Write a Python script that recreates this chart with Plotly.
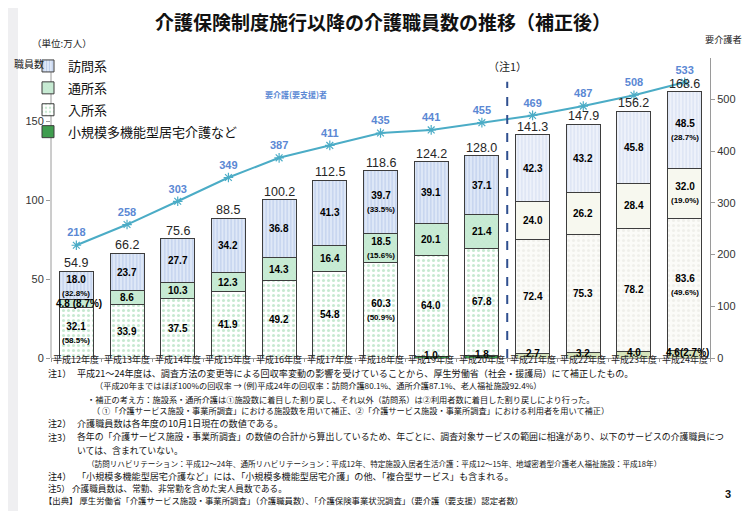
import plotly.graph_objects as go

# ---------------- data ----------------
years = ["平成12年度", "平成13年度", "平成14年度", "平成15年度", "平成16年度", "平成17年度",
         "平成18年度", "平成19年度", "平成20年度", "平成21年度", "平成22年度", "平成23年度", "平成24年度"]
small_multi = [None, None, None, None, None, None, None, 1.0, 1.8, 2.7, 3.2, 4.0, 4.6]
residential = [32.1, 33.9, 37.5, 41.9, 49.2, 54.8, 60.3, 64.0, 67.8, 72.4, 75.3, 78.2, 83.6]
day_care = [4.8, 8.6, 10.3, 12.3, 14.3, 16.4, 18.5, 20.1, 21.4, 24.0, 26.2, 28.4, 32.0]
home_visit = [18.0, 23.7, 27.7, 34.2, 36.8, 41.3, 39.7, 39.1, 37.1, 42.3, 43.2, 45.8, 48.5]
totals = [54.9, 66.2, 75.6, 88.5, 100.2, 112.5, 118.6, 124.2, 128.0, 141.3, 147.9, 156.2, 168.6]
care_recipients = [218, 258, 303, 349, 387, 411, 435, 441, 455, 469, 487, 508, 533]

pct_small = [None] * 12 + ["2.7%"]
pct_res = ["58.5%"] + [None] * 5 + ["50.9%"] + [None] * 5 + ["49.6%"]
pct_day = ["8.7%"] + [None] * 5 + ["15.6%"] + [None] * 5 + ["19.0%"]
pct_visit = ["32.8%"] + [None] * 5 + ["33.5%"] + [None] * 5 + ["28.7%"]

series_names = ["小規模多機能型居宅介護など", "入所系", "通所系", "訪問系"]
first_adjusted_year = "平成21年度"   # values from here on are corrected (注1)

# ---------------- helpers (pixel -> paper) ----------------
L, R, T, B = 43, 48, 50, 161
W, H = 750, 511
PW, PH = W - L - R, H - T - B
CJK_DY = 7  # CJK text renders lower than its nominal centre; compensate


def PX(x):
    return (x - L) / PW


def PY(y):
    return (T + PH - y) / PH


def PYJ(y):
    return PY(y - CJK_DY)


n = len(years)
split = years.index(first_adjusted_year)
NUM = "Liberation Sans, Arial, sans-serif"
JP = "Noto Sans CJK JP, sans-serif"
LINE_COL = "#3d3d3d"


def part(vals, late):
    return [v if ((i >= split) == late) else None for i, v in enumerate(vals)]


# style per series: (early style, late style); style = (bg, pattern shape, fg)
styles = {
    0: (("#3f9d4f", "", None), ("#d6e3bb", "", None)),
    1: (("#ffffff", ".", "#8fd3a3"), ("#fbfbf8", ".", "#e4e4dd")),
    2: (("#c8ebd4", "x", "#a6dcb6"), ("#f7f8ef", "", None)),
    3: (("#dfe8f7", "|", "#93aedf"), ("#eef2fa", "|", "#bccae8")),
}
series_vals = [small_multi, residential, day_care, home_visit]

fig = go.Figure()
for k, vals in enumerate(series_vals):
    for late in (False, True):
        bg, shp, fg = styles[k][1 if late else 0]
        marker = dict(color=bg, line=dict(color=LINE_COL, width=1))
        if shp:
            marker["pattern"] = dict(shape=shp, fgcolor=fg, size=5 if shp == "." else (3.5 if shp == "|" else 4),
                                     solidity=0.3 if shp != "x" else 0.12, fillmode="overlay")
        fig.add_trace(go.Bar(
            x=years, y=part(vals, late), name=series_names[k],
            legendgroup=f"g{k}", legendrank=4 - k, showlegend=not late,
            marker=marker, hoverinfo="skip"))

# 要介護(要支援)者 line
fig.add_trace(go.Scatter(
    x=years, y=care_recipients, yaxis="y2", mode="lines+markers+text",
    line=dict(color="#4bacc6", width=2),
    marker=dict(symbol="asterisk-open", size=8, color="#4bacc6", line=dict(color="#4bacc6", width=1.2)),
    text=[str(v) for v in care_recipients], textposition="top center",
    texttemplate="<b>%{text}</b>",
    textfont=dict(family=NUM, size=11, color="#5b88d4"),
    showlegend=False, hoverinfo="skip", cliponaxis=False))

annotations = []


def seg_label(val, pct, two_line=True):
    t = f"<b>{val:.1f}</b>"
    if pct:
        if two_line:
            t += f"<br><span style='font-size:8px'><b>({pct})</b></span>"
        else:
            t += f"<b>({pct})</b>" if val < 4.7 and val > 4.5 else f"<b> ({pct})</b>"
    return t


stacks = [(small_multi, pct_small), (residential, pct_res), (day_care, pct_day), (home_visit, pct_visit)]
for i in range(n):
    base = 0.0
    for k, (vals, pcts) in enumerate(stacks):
        v = vals[i]
        if v is None:
            continue
        two = v >= 8
        annotations.append(dict(
            x=years[i], y=base + v / 2, xref="x", yref="y", showarrow=False,
            text=seg_label(v, pcts[i], two_line=two),
            xanchor="center", yanchor="middle",
            xshift=3 if (pcts[i] and not two) else 0,
            yshift=2 if k == 0 else 0,
            font=dict(family=NUM, size=10, color="#000000")))
        base += v
    annotations.append(dict(
        x=years[i], y=totals[i], xref="x", yref="y", showarrow=False,
        text=f"{totals[i]:.1f}", xanchor="center", yanchor="bottom", yshift=-1,
        font=dict(family=NUM, size=12.5, color="#262626")))
    # category (year) label under the axis, placed on the category axis
    annotations.append(dict(
        x=years[i], y=PYJ(358), xref="x", yref="paper", showarrow=False,
        text=years[i], xanchor="center", yanchor="middle",
        font=dict(family=JP, size=9, color="#222222")))

# headings
annotations += [
    dict(x=PX(375), y=PYJ(20), xref="paper", yref="paper", showarrow=False,
         text="<b>介護保険制度施行以降の介護職員数の推移（補正後）</b>",
         font=dict(family=JP, size=19, color="#111111"), xanchor="center", yanchor="middle"),
    dict(x=PX(22), y=PYJ(42), xref="paper", yref="paper", showarrow=False,
         text="（単位:万人）", font=dict(family=JP, size=9.5, color="#222222"),
         xanchor="left", yanchor="middle"),
    dict(x=PX(4), y=PYJ(62), xref="paper", yref="paper", showarrow=False,
         text="職員数", font=dict(family=JP, size=10, color="#222222"),
         xanchor="left", yanchor="middle"),
    dict(x=PX(720), y=PYJ(38), xref="paper", yref="paper", showarrow=False,
         text="要介護者数", font=dict(family=JP, size=9.2, color="#222222"),
         xanchor="center", yanchor="middle"),
    dict(x=PX(288), y=PYJ(93), xref="paper", yref="paper", showarrow=False,
         text="<b>要介護(要支援)者</b>", font=dict(family=JP, size=8, color="#5b88d4"),
         xanchor="center", yanchor="middle"),
    dict(x=split - 0.5, y=PYJ(65), xref="x", yref="paper", showarrow=False,
         text="（注1）", font=dict(family=JP, size=11, color="#222222"),
         xanchor="center", yanchor="middle"),
    dict(x=PX(720), y=PY(486), xref="paper", yref="paper", showarrow=False,
         text="<b>3</b>", font=dict(family=NUM, size=11, color="#111111"),
         xanchor="center", yanchor="middle"),
]

notes = [
    (38, 372, "注1）", 9.1),
    (67, 372, "平成21～24年度は、調査方法の変更等による回収率変動の影響を受けていることから、厚生労働省（社会・援護局）にて補正したもの。", 9.1),
    (85, 384, "（平成20年まではほぼ100%の回収率 → (例)平成24年の回収率：訪問介護80.1%、通所介護87.1%、老人福祉施設92.4%）", 8.2),
    (77, 398, "・補正の考え方：施設系・通所介護は①施設数に着目した割り戻し、それ以外（訪問系）は②利用者数に着目した割り戻しにより行った。", 8.2),
    (82, 409, "（ ①「介護サービス施設・事業所調査」における施設数を用いて補正、②「介護サービス施設・事業所調査」における利用者を用いて補正）", 8.2),
    (38, 422, "注2）", 9.1),
    (67, 422, "介護職員数は各年度の10月1日現在の数値である。", 9.1),
    (38, 436, "注3）", 9.1),
    (67, 436, "各年の「介護サービス施設・事業所調査」の数値の合計から算出しているため、年ごとに、調査対象サービスの範囲に相違があり、以下のサービスの介護職員につ", 8.9),
    (67, 449, "いては、含まれていない。", 8.9),
    (77, 462, "（訪問リハビリテーション：平成12～24年、通所リハビリテーション：平成12年、特定施設入居者生活介護：平成12～15年、地域密着型介護老人福祉施設：平成18年）", 7.6),
    (38, 475, "注4）", 9.1),
    (67, 475, "「小規模多機能型居宅介護など」には、「小規模多機能型居宅介護」の他、「複合型サービス」も含まれる。", 9.1),
    (38, 487, "注5）", 8.6),
    (62, 487, "介護職員数は、常勤、非常勤を含めた実人員数である。", 8.6),
    (34, 498.5, "【出典】 厚生労働省「介護サービス施設・事業所調査」（介護職員数）、「介護保険事業状況調査」（要介護（要支援）認定者数）", 8.4),
]
for x, y, t, s in notes:
    annotations.append(dict(x=PX(x), y=PYJ(y), xref="paper", yref="paper", showarrow=False,
                            text=t, font=dict(family=JP, size=s, color="#111111"),
                            xanchor="left", yanchor="middle"))

shapes = [
    # white page on grey surround
    dict(type="rect", xref="paper", yref="paper", x0=PX(10), x1=PX(737), y0=PY(506), y1=PY(-2),
         fillcolor="#ffffff", line=dict(width=0), layer="below"),
    # left axis line
    dict(type="line", xref="paper", yref="y", x0=0, x1=0, y0=0, y1=181,
         line=dict(color="#9a9a9a", width=1)),
    # dashed divider between uncorrected and corrected years
    dict(type="line", xref="x", yref="y", x0=split - 0.5, x1=split - 0.5, y0=0, y1=175,
         line=dict(color="#2f4f8f", width=2, dash="dash")),
]

fig.update_layout(
    width=W, height=H,
    margin=dict(l=L, r=R, t=T, b=B, pad=0),
    paper_bgcolor="#efeff1", plot_bgcolor="rgba(0,0,0,0)",
    barmode="stack", bargap=0.33,
    font=dict(family=JP, color="#222222"),
    showlegend=True,
    legend=dict(x=PX(20), y=PY(43), xanchor="left", yanchor="top",
                traceorder="grouped", tracegroupgap=2,
                font=dict(family=JP, size=13, color="#111111"),
                bgcolor="rgba(0,0,0,0)", itemclick=False),
    xaxis=dict(type="category", range=[-0.5, 12.5], showline=True, linecolor="#9a9a9a",
               ticks="outside", tickson="boundaries", ticklen=3, tickcolor="#9a9a9a",
               showticklabels=False, showgrid=False, fixedrange=True),
    yaxis=dict(range=[0, 190], tickvals=[0, 50, 100, 150], showline=False, ticks="outside",
               ticklen=4, tickcolor="#9a9a9a", showgrid=False, zeroline=False,
               tickfont=dict(family=NUM, size=11, color="#333333")),
    yaxis2=dict(range=[0, 580], tickvals=[0, 100, 200, 300, 400, 500], overlaying="y", side="right",
                showline=True, linecolor="#9a9a9a", ticks="outside", ticklen=4, tickcolor="#9a9a9a",
                showgrid=False, zeroline=False, tickfont=dict(family=NUM, size=11, color="#333333")),
    annotations=annotations,
    shapes=shapes,
)

fig.write_html("out.html")
